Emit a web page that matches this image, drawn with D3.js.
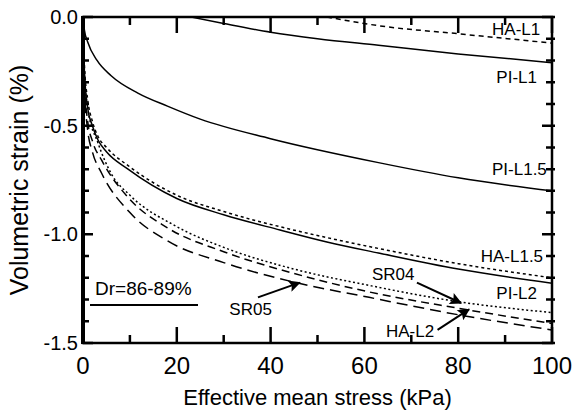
<!DOCTYPE html>
<html>
<head>
<meta charset="utf-8">
<script src="https://cdn.jsdelivr.net/npm/d3@7"></script>
<style>
  body { margin: 0; background: #fff; }
  text { font-family: "Liberation Sans", Arial, sans-serif; fill: #000; }
</style>
</head>
<body>
<div id="chart"></div>
<script>
// curves: [stress kPa, volumetric strain %]
const PI_L1 = [[23,0],[30,-0.03],[40,-0.07],[50,-0.1],[63,-0.13],[80,-0.17],[100,-0.21]];
const HA_L1 = [[52,0],[63,-0.04],[80,-0.077],[100,-0.12]];
const PI_L15 = [[0,0],[0.3,-0.06],[1,-0.115],[3,-0.2],[6,-0.27],[11.7,-0.35],[18,-0.41],[25,-0.47],[40,-0.56],[63,-0.67],[80,-0.74],[100,-0.8]];
const PI_L2 = [[0,0],[0.3,-0.25],[1,-0.42],[2,-0.5],[3.2,-0.566],[5,-0.62],[9.6,-0.7],[20,-0.835],[30,-0.91],[42,-0.98],[52,-1.035],[63,-1.086],[80,-1.16],[100,-1.225]];
const HA_L15 = [[0,0],[0.3,-0.22],[1,-0.38],[2,-0.48],[3.2,-0.55],[5,-0.6],[10,-0.69],[20,-0.82],[30,-0.895],[42,-0.965],[52,-1.015],[63,-1.065],[80,-1.135],[100,-1.2]];
const SR04 = [[0,0],[0.3,-0.25],[1,-0.42],[3.2,-0.58],[6,-0.72],[10,-0.82],[19.6,-0.96],[30,-1.06],[45,-1.16],[61,-1.235],[80,-1.31],[100,-1.36]];
const HA_L2 = [[0,0],[0.3,-0.3],[1,-0.48],[2,-0.57],[4,-0.66],[9.6,-0.83],[18,-0.97],[30,-1.08],[45,-1.18],[61,-1.265],[80,-1.34],[100,-1.41]];
const SR05 = [[0,0],[0.3,-0.33],[1,-0.52],[2,-0.62],[4,-0.72],[10,-0.9],[18,-1.03],[30,-1.13],[45,-1.22],[61,-1.29],[80,-1.37],[100,-1.44]];

const xTicks = [0, 20, 40, 60, 80, 100];
const yTicks = [0, -0.5, -1.0, -1.5];

// labels and arrows, in data units
const labels = [
  {text: "HA-L1", x: 97.5, y: -0.085, anchor: "end"},
  {text: "PI-L1", x: 96.8, y: -0.304, anchor: "end"},
  {text: "PI-L1.5", x: 98.9, y: -0.727, anchor: "end"},
  {text: "HA-L1.5", x: 98.1, y: -1.127, anchor: "end"},
  {text: "PI-L2", x: 96.8, y: -1.298, anchor: "end"},
  {text: "SR04", x: 61.6, y: -1.21, anchor: "start"},
  {text: "HA-L2", x: 64.6, y: -1.473, anchor: "start"},
  {text: "SR05", x: 31.2, y: -1.371, anchor: "start"}
];
const arrows = [
  {from: [71.2, -1.222], to: [80.6, -1.316]},
  {from: [75.6, -1.44], to: [82.3, -1.345]},
  {from: [37.3, -1.29], to: [46.2, -1.222]}
];

const W = 581, H = 412;
const m = {top: 17, right: 29, bottom: 69, left: 83};

const svg = d3.select("#chart").append("svg")
  .attr("width", W).attr("height", H);

const x = d3.scaleLinear().domain([0, 100]).range([m.left, W - m.right]);
const y = d3.scaleLinear().domain([-1.5, 0]).range([H - m.bottom, m.top]);

svg.append("defs").append("clipPath").attr("id", "clip")
  .append("rect")
  .attr("x", m.left).attr("y", m.top)
  .attr("width", W - m.left - m.right).attr("height", H - m.top - m.bottom);

const line = d3.line().x(d => x(d[0])).y(d => y(d[1])).curve(d3.curveMonotoneX);

const series = [
  {d: PI_L1, dash: null},
  {d: HA_L1, dash: "5,4"},
  {d: PI_L15, dash: null},
  {d: PI_L2, dash: null},
  {d: HA_L15, dash: "3,3"},
  {d: SR04, dash: "2,2.5"},
  {d: HA_L2, dash: "8,5"},
  {d: SR05, dash: "11,6"}
];

const plot = svg.append("g").attr("clip-path", "url(#clip)");
series.forEach(s => {
  plot.append("path")
    .datum(s.d)
    .attr("d", line)
    .attr("fill", "none")
    .attr("stroke", "#000")
    .attr("stroke-width", 1.5)
    .attr("stroke-dasharray", s.dash);
});

// ticks pointing inward, drawn as one path
const xMinor = d3.range(0, 101, 10);
const yMinor = d3.range(0, 16).map(i => -i / 10);
const xLen = d => d % 20 === 0 ? 16 : 8;
const yLen = d => Math.abs(d * 2 - Math.round(d * 2)) < 1e-6 ? 10 : 6;

const tp = d3.path();
xMinor.forEach(d => {
  tp.moveTo(x(d), y(-1.5)); tp.lineTo(x(d), y(-1.5) - xLen(d));
  tp.moveTo(x(d), y(0)); tp.lineTo(x(d), y(0) + xLen(d));
});
yMinor.forEach(d => {
  tp.moveTo(x(0), y(d)); tp.lineTo(x(0) + yLen(d), y(d));
  tp.moveTo(x(100) + 3, y(d)); tp.lineTo(x(100) - yLen(d), y(d));
});
svg.append("path")
  .attr("d", tp.toString())
  .attr("fill", "none")
  .attr("stroke", "#000")
  .attr("stroke-width", 2.5);

// frame
svg.append("rect")
  .attr("x", x(0)).attr("y", y(0))
  .attr("width", x(100) - x(0)).attr("height", y(-1.5) - y(0))
  .attr("fill", "none").attr("stroke", "#000").attr("stroke-width", 2.5);
svg.append("line")
  .attr("x1", x(0)).attr("x2", x(0)).attr("y1", y(0) - 1).attr("y2", y(-1.5) + 1)
  .attr("stroke", "#000").attr("stroke-width", 4);

// tick labels
svg.append("g").selectAll("text").data(xTicks).join("text")
  .attr("x", d => x(d))
  .attr("y", y(-1.5) + 31)
  .attr("text-anchor", "middle")
  .style("font-size", "24px")
  .text(d => d);

svg.append("g").selectAll("text").data(yTicks).join("text")
  .attr("x", x(0) - 5)
  .attr("y", d => y(d) + 7)
  .attr("text-anchor", "end")
  .style("font-size", "20px")
  .text(d => d3.format(".1f")(d).replace("\u2212", "-"));

// axis titles
svg.append("text")
  .attr("x", (x(0) + x(100)) / 2)
  .attr("y", 405)
  .attr("text-anchor", "middle")
  .style("font-size", "22px")
  .text("Effective mean stress (kPa)");

svg.append("text")
  .attr("transform", `translate(28,${(y(0) + y(-1.5)) / 2}) rotate(-90)`)
  .attr("text-anchor", "middle")
  .style("font-size", "25px")
  .text("Volumetric strain (%)");

// curve labels
svg.append("g").selectAll("text").data(labels).join("text")
  .attr("x", d => x(d.x))
  .attr("y", d => y(d.y))
  .attr("text-anchor", d => d.anchor)
  .style("font-size", "17px")
  .text(d => d.text);

// arrows
svg.append("defs").append("marker")
  .attr("id", "head")
  .attr("viewBox", "0 0 10 10")
  .attr("refX", 9).attr("refY", 5)
  .attr("markerWidth", 10).attr("markerHeight", 6)
  .attr("markerUnits", "strokeWidth")
  .attr("orient", "auto")
  .append("path").attr("d", "M0,0L10,5L0,10L2,5Z").attr("fill", "#000");

svg.append("g").selectAll("line").data(arrows).join("line")
  .attr("x1", d => x(d.from[0])).attr("y1", d => y(d.from[1]))
  .attr("x2", d => x(d.to[0])).attr("y2", d => y(d.to[1]))
  .attr("stroke", "#000")
  .attr("stroke-width", 2)
  .attr("marker-end", "url(#head)");

// Dr legend
svg.append("text")
  .attr("x", 95).attr("y", 295)
  .style("font-size", "19px")
  .text("Dr=86-89%");
svg.append("line")
  .attr("x1", 90).attr("x2", 198)
  .attr("y1", 305).attr("y2", 305)
  .attr("stroke", "#000").attr("stroke-width", 2);
</script>
</body>
</html>
